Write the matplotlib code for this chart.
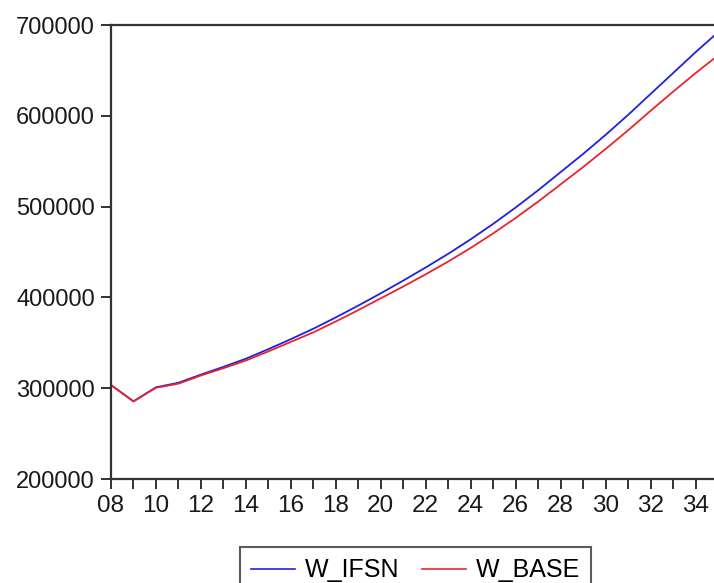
import matplotlib
matplotlib.use("Agg")
import matplotlib.pyplot as plt
from matplotlib.ticker import FixedLocator, FuncFormatter

# Years on the x axis (2008 .. 2035)
years = list(range(2008, 2036))

# Series
w_ifsn = [303500, 285500, 301000, 306000, 315000, 323500, 332500, 343000,
          354000, 365500, 378000, 391000, 404500, 418500, 433000, 448000,
          464000, 481000, 499000, 518000, 538000, 558000, 579000, 601000,
          624000, 647000, 670000, 692000]
w_base = [303500, 285500, 300500, 305000, 314000, 322000, 330500, 340500,
          351000, 361500, 373500, 386000, 399000, 412000, 425500, 439500,
          454500, 470500, 487500, 505500, 524500, 543500, 563500, 584000,
          605500, 626500, 647000, 666500]

y_ticks = [200000, 300000, 400000, 500000, 600000, 700000]
x_label_years = list(range(2008, 2036, 2))

plt.rcParams['font.family'] = ['Liberation Sans', 'DejaVu Sans']

fig = plt.figure(figsize=(7.14, 5.83), dpi=100)
# axes runs a bit past the right edge, like the cropped source
ax = fig.add_axes([111 / 714, 1 - 479 / 583, 607 / 714, 454 / 583])

ax.plot(years, w_ifsn, color='#2020e0', lw=1.3, label='W_IFSN')
ax.plot(years, w_base, color='#e8242c', lw=1.3, label='W_BASE')

ax.set_xlim(2008, 2035)
ax.set_ylim(200000, 700000)

ax.yaxis.set_major_locator(FixedLocator(y_ticks))
ax.yaxis.set_major_formatter(FuncFormatter(lambda v, p: f"{int(v)}"))
ax.xaxis.set_major_locator(FixedLocator(x_label_years))
ax.xaxis.set_major_formatter(FuncFormatter(lambda v, p: f"{int(v) % 100:02d}"))
ax.xaxis.set_minor_locator(FixedLocator(years))

ax.tick_params(axis='both', which='both', direction='out', colors='#222222',
               labelcolor='#1a1a1a', width=1.3, length=7.5)
ax.tick_params(axis='x', which='major', labelsize=17.5, pad=4)
ax.tick_params(axis='y', which='major', labelsize=17, pad=4)

for side in ['left', 'top', 'bottom', 'right']:
    ax.spines[side].set_linewidth(1.6)
    ax.spines[side].set_color('#333333')

leg = fig.legend(loc='upper left', bbox_to_anchor=(240 / 714, 1 - 547 / 583),
                 ncol=2, fontsize=18, frameon=True, fancybox=False,
                 handlelength=1.75, handletextpad=0.4, columnspacing=0.9,
                 borderpad=0.45, borderaxespad=0)
leg.get_frame().set_edgecolor('#333333')
leg.get_frame().set_linewidth(1.5)
for line in leg.get_lines():
    line.set_linewidth(1.2)

fig.savefig('out.png', dpi=100)
